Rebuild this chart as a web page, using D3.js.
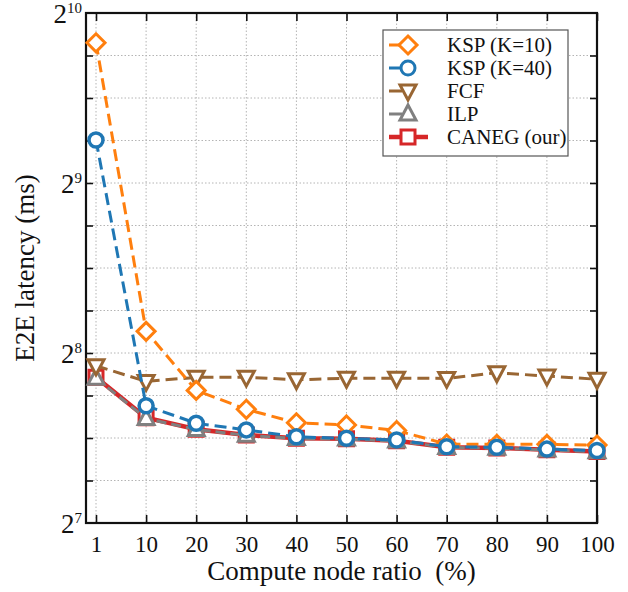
<!DOCTYPE html>
<html><head><meta charset="utf-8">
<script src="https://cdn.jsdelivr.net/npm/d3@7"></script>
<style>body{margin:0;background:#fff}svg{display:block}svg text{font-family:'Liberation Serif','DejaVu Serif',serif !important}</style>
</head><body><div id="chart"></div>
<script>
const categories = ["1","10","20","30","40","50","60","70","80","90","100"];
const kspK10 = [907, 279.6, 219.8, 203.5, 192.6, 190.9, 186.6, 176.6, 176.4, 176.4, 175.9];
const kspK40 = [610, 206.5, 192.2, 187.1, 181.9, 180.8, 179.6, 174.7, 174.3, 173.0, 172.0];
const fcf    = [243, 228, 231.8, 232, 229.5, 231, 231, 230.8, 236.2, 233, 230];
const ilp    = [231, 196.0, 187.4, 183.0, 180.6, 180.2, 178.8, 174.2, 173.6, 172.4, 171.2];
const caneg  = [231.8, 196.6, 187.6, 183.2, 180.8, 180.4, 179.0, 174.4, 173.8, 172.6, 171.4];
const yTickExps = [7, 8, 9, 10];

const FONT = "'Liberation Serif','DejaVu Serif',serif";
const W = 628, H = 592;
const m = {l: 86, r: 31, t: 13, b: 69};
const svg = d3.select("#chart").append("svg").attr("width", W).attr("height", H)
  .attr("font-family", FONT);
const iw = W - m.l - m.r, ih = H - m.t - m.b;

const x = d3.scalePoint().domain(categories).range([m.l + 10, m.l + iw]);
const y = d3.scaleLog().base(2).domain([128, 1024]).range([m.t + ih, m.t]);

const quarter = d3.range(0, 13).map(i => Math.pow(2, 7 + i / 4));

const grid = svg.append("g");
grid.selectAll("line.h").data(quarter.slice(1, -1)).join("line")
  .attr("x1", m.l).attr("x2", m.l + iw).attr("y1", d => y(d)).attr("y2", d => y(d))
  .attr("stroke", "#b4b4b4").attr("stroke-width", 1).attr("stroke-dasharray", "1.5,2");
grid.selectAll("line.v").data(categories).join("line")
  .attr("x1", d => x(d)).attr("x2", d => x(d)).attr("y1", m.t).attr("y2", m.t + ih)
  .attr("stroke", "#b4b4b4").attr("stroke-width", 1).attr("stroke-dasharray", "1.5,2");

const axB = svg.append("g").attr("transform", `translate(0,${m.t + ih})`)
  .call(d3.axisBottom(x).tickSize(-8).tickPadding(13));
const axT = svg.append("g").attr("transform", `translate(0,${m.t})`)
  .call(d3.axisTop(x).tickSize(-8).tickFormat(""));
const axL = svg.append("g").attr("transform", `translate(${m.l},0)`)
  .call(d3.axisLeft(y).tickValues(quarter.slice(1, -1)).tickSize(-7).tickFormat(""));
const axR = svg.append("g").attr("transform", `translate(${m.l + iw},0)`)
  .call(d3.axisRight(y).tickValues(quarter.slice(1, -1)).tickSize(-7).tickFormat(""));
[axB, axT, axL, axR].forEach(g => {
  g.attr("font-family", FONT);
  g.select(".domain").remove();
  g.selectAll(".tick line").attr("stroke", "#111").attr("stroke-width", 1.6);
});
axB.selectAll(".tick text").attr("font-size", 23).attr("fill", "#111")
  .attr("font-family", FONT);

svg.append("rect").attr("x", m.l).attr("y", m.t).attr("width", iw).attr("height", ih)
  .attr("fill", "none").attr("stroke", "#111").attr("stroke-width", 2.2);

const yl = svg.append("g");
yTickExps.forEach(e => {
  const t = yl.append("text").attr("x", m.l - 4).attr("y", y(Math.pow(2, e)) + 10)
    .attr("text-anchor", "end").attr("fill", "#111").attr("font-family", FONT);
  t.append("tspan").attr("font-size", 27).text("2");
  t.append("tspan").attr("font-size", 15).attr("dy", -10).text(String(e));
});

svg.append("text").attr("x", m.l + iw / 2).attr("y", 580).attr("text-anchor", "middle")
  .attr("font-family", FONT)
  .attr("font-size", 27).attr("fill", "#111").attr("xml:space", "preserve").text("Compute node ratio  (%)");
svg.append("text").attr("transform", `translate(34,${m.t + ih / 2}) rotate(-90)`)
  .attr("font-family", FONT)
  .attr("text-anchor", "middle").attr("font-size", 27).attr("fill", "#111").text("E2E latency (ms)");

const series = [
  {name: "CANEG (our)", data: caneg, color: "#d62728", width: 4.5, dash: null, marker: "square"},
  {name: "ILP", data: ilp, color: "#808080", width: 3, dash: "10,5", marker: "triUp"},
  {name: "FCF", data: fcf, color: "#996633", width: 3, dash: "12,6", marker: "triDown"},
  {name: "KSP (K=10)", data: kspK10, color: "#ff7f0e", width: 3, dash: "12,6", marker: "diamond"},
  {name: "KSP (K=40)", data: kspK40, color: "#1f77b4", width: 3, dash: "12,6", marker: "circle"}
];

function markerPath(type) {
  switch (type) {
    case "square": return "M-7,-7H7V7H-7Z";
    case "triUp": return "M0,-9L8,6H-8Z";
    case "triDown": return "M0,9L8,-6H-8Z";
    case "diamond": return "M0,-9L9,0L0,9L-9,0Z";
    case "circle": return "M7,0A7,7 0 1,1 -7,0A7,7 0 1,1 7,0Z";
  }
}

const line = d3.line().x((d, i) => x(categories[i])).y(d => y(d));
const plot = svg.append("g");
series.forEach(s => {
  const g = plot.append("g");
  g.append("path").datum(s.data).attr("d", line).attr("fill", "none")
    .attr("stroke", s.color).attr("stroke-width", s.width)
    .attr("stroke-dasharray", s.dash);
  g.selectAll("path.mk").data(s.data).join("path").attr("class", "mk")
    .attr("transform", (d, i) => `translate(${x(categories[i])},${y(d)})`)
    .attr("d", markerPath(s.marker)).attr("fill", "#fff")
    .attr("stroke", s.color).attr("stroke-width", s.marker === "circle" ? 3.5 : 3);
});

const legOrder = ["KSP (K=10)", "KSP (K=40)", "FCF", "ILP", "CANEG (our)"];
const lg = svg.append("g");
lg.append("rect").attr("x", 383).attr("y", 30).attr("width", 185).attr("height", 126)
  .attr("fill", "#fff").attr("stroke", "#555").attr("stroke-width", 1.2);
legOrder.forEach((n, i) => {
  const s = series.find(d => d.name === n);
  const yy = 45 + i * 23;
  lg.append("line").attr("x1", 389).attr("x2", 428).attr("y1", yy).attr("y2", yy)
    .attr("stroke", s.color).attr("stroke-width", s.width)
    .attr("stroke-dasharray", s.dash ? "13,4,5,20" : null);
  lg.append("path").attr("transform", `translate(408,${yy})`)
    .attr("d", markerPath(s.marker)).attr("fill", "#fff")
    .attr("stroke", s.color).attr("stroke-width", 3);
  lg.append("text").attr("x", 447).attr("y", yy + 7).attr("font-size", 21)
    .attr("font-family", FONT).attr("fill", "#111").text(n);
});
</script></body></html>
